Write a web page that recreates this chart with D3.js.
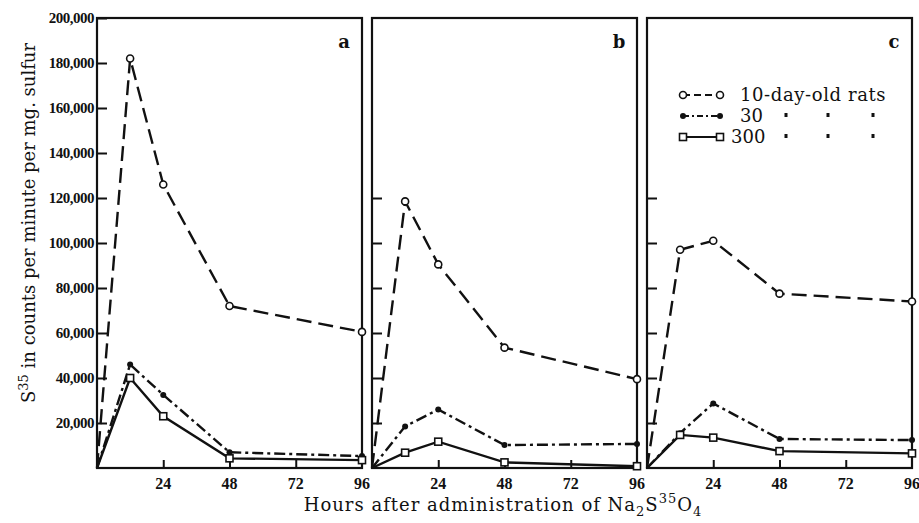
<!DOCTYPE html>
<html>
<head>
<script src="https://d3js.org/d3.v7.min.js"></script>
<style>
  body { margin: 0; background: #fff; }
  text { font-family: "DejaVu Serif", serif; fill: #111; }
</style>
</head>
<body>
<script>
	var width = 919;
	var height = 523;

	// data
	var hours = [0, 12, 24, 48, 96];
	var panels = ["a", "b", "c"];
	var rats10 = [
		[0, 182000, 126000, 72000, 60500],
		[0, 118500, 90500, 53500, 39500],
		[0, 97000, 101000, 77500, 74000]
	];
	var rats30 = [
		[0, 46000, 32500, 7000, 5300],
		[0, 18500, 26000, 10200, 10700],
		[0, 15500, 28700, 12900, 12400]
	];
	var rats300 = [
		[0, 40000, 23000, 4300, 3500],
		[0, 6800, 11700, 2500, 800],
		[0, 14700, 13500, 7500, 6500]
	];
	var xTicks = [24, 48, 72, 96];
	var yTicksA = [20000, 40000, 60000, 80000, 100000, 120000, 140000, 160000, 180000, 200000];
	var yTicksBC = [20000, 40000, 60000, 80000, 100000, 120000];
	var legendLabels = ["10-day-old rats", "30", "300"];

	var panelLeft = [97, 372, 647];
	var panelW = 265;
	var plotTop = 18, plotBottom = 468;

	var svg = d3.select("body")
		.append("svg")
		.attr("width", width)
		.attr("height", height);

	var y = d3.scaleLinear().domain([0, 200000]).range([plotBottom, plotTop]);

	var styles = [
		{ data: rats10, dash: "15,7", marker: "circle" },
		{ data: rats30, dash: "11,4,3,4", marker: "dot" },
		{ data: rats300, dash: null, marker: "square" }
	];

	function drawMarker(g, kind, cx, cy) {
		if (kind == "circle") {
			g.append("circle").attr("cx", cx).attr("cy", cy).attr("r", 3.5)
				.attr("fill", "#fff").attr("stroke", "#111").attr("stroke-width", 1.6);
		} else if (kind == "dot") {
			g.append("circle").attr("cx", cx).attr("cy", cy).attr("r", 3)
				.attr("fill", "#111");
		} else {
			g.append("rect").attr("x", cx - 3.5).attr("y", cy - 3.5).attr("width", 7).attr("height", 7)
				.attr("fill", "#fff").attr("stroke", "#111").attr("stroke-width", 1.6);
		}
	}

	panels.forEach(function(name, p) {
		var x = d3.scaleLinear().domain([0, 96]).range([panelLeft[p], panelLeft[p] + panelW]);
		var g = svg.append("g");

		// y ticks (inward)
		var ticks = p == 0 ? yTicksA : yTicksBC;
		var yAxis = d3.axisRight(y).tickValues(ticks).tickSize(10).tickFormat("");
		g.append("g").attr("transform", "translate(" + panelLeft[p] + ",0)").call(yAxis)
			.call(s => s.select(".domain").remove())
			.selectAll("line").attr("stroke", "#111").attr("stroke-width", 2);

		if (p == 0) {
			g.selectAll(".ylab").data(ticks).enter().append("text")
				.attr("x", panelLeft[p] - 3)
				.attr("y", d => y(d) + 5)
				.attr("text-anchor", "end")
				.style("font-family", "Liberation Serif")
				.style("font-weight", "bold")
				.style("font-size", "15px")
				.style("letter-spacing", "-0.5px")
				.text(d => d3.format(",")(d));
		}

		// x ticks (inward)
		var xAxis = d3.axisTop(x).tickValues(xTicks.slice(0, 3)).tickSize(8).tickFormat("");
		g.append("g").attr("transform", "translate(0," + plotBottom + ")").call(xAxis)
			.call(s => s.select(".domain").remove())
			.selectAll("line").attr("stroke", "#111").attr("stroke-width", 2);

		g.selectAll(".xlab").data(xTicks).enter().append("text")
			.attr("x", d => x(d))
			.attr("y", plotBottom + 21)
			.attr("text-anchor", "middle")
			.style("font-family", "Liberation Serif")
			.style("font-weight", "bold")
			.style("font-size", "16px")
			.text(d => d);

		// frame
		g.append("rect")
			.attr("x", panelLeft[p]).attr("y", plotTop)
			.attr("width", panelW).attr("height", plotBottom - plotTop)
			.attr("fill", "none").attr("stroke", "#111").attr("stroke-width", 2.2);

		// series
		var line = d3.line().x((d, i) => x(hours[i])).y(d => y(d));
		styles.forEach(function(s) {
			var vals = s.data[p];
			g.append("path").datum(vals)
				.attr("d", line)
				.attr("fill", "none")
				.attr("stroke", "#111")
				.attr("stroke-width", 2.4)
				.attr("stroke-dasharray", s.dash);
			vals.forEach(function(v, i) {
				if (i > 0) drawMarker(g, s.marker, x(hours[i]), y(v));
			});
		});

		// panel letter
		g.append("text")
			.attr("x", panelLeft[p] + panelW - 18)
			.attr("y", 48)
			.attr("text-anchor", "middle")
			.style("font-size", "18px")
			.style("font-weight", "bold")
			.text(name);
	});

	// legend in panel c
	var lg = svg.append("g");
	styles.forEach(function(s, i) {
		var ly = 95 + i * 21;
		lg.append("line")
			.attr("x1", 683).attr("x2", 720).attr("y1", ly).attr("y2", ly)
			.attr("stroke", "#111").attr("stroke-width", 2)
			.attr("stroke-dasharray", i == 0 ? "7,4" : (i == 1 ? "6,3,2,3" : null));
		drawMarker(lg, s.marker, 683, ly);
		drawMarker(lg, s.marker, 720, ly);
		lg.append("text")
			.attr("x", i == 2 ? 731 : 740)
			.attr("y", ly + 6)
			.style("font-size", "18px")
			.style("letter-spacing", i == 0 ? "0.6px" : "0px")
			.text(legendLabels[i]);
		if (i > 0) {
			[786, 828, 873].forEach(function(dx) {
				lg.append("rect").attr("x", dx - 1.5).attr("y", ly - 3).attr("width", 3).attr("height", 4)
					.attr("fill", "#111");
			});
		}
	});

	// axis titles
	var xTitle = svg.append("text")
		.attr("x", 503)
		.attr("y", 511)
		.attr("text-anchor", "middle")
		.style("font-size", "18px")
		.style("letter-spacing", "1px");
	xTitle.append("tspan").text("Hours after administration of Na");
	xTitle.append("tspan").attr("dy", 5).style("font-size", "13px").text("2");
	xTitle.append("tspan").attr("dy", -5).text("S");
	xTitle.append("tspan").attr("dy", -8).style("font-size", "13px").text("35");
	xTitle.append("tspan").attr("dy", 8).text("O");
	xTitle.append("tspan").attr("dy", 5).style("font-size", "13px").text("4");

	var yTitle = svg.append("text")
		.attr("transform", "translate(35,223) rotate(-90)")
		.attr("text-anchor", "middle")
		.style("font-size", "18px");
	yTitle.append("tspan").text("S");
	yTitle.append("tspan").attr("dy", -7).style("font-size", "13px").text("35");
	yTitle.append("tspan").attr("dy", 7).text(" in counts per minute per mg. sulfur");
</script>
</body>
</html>
